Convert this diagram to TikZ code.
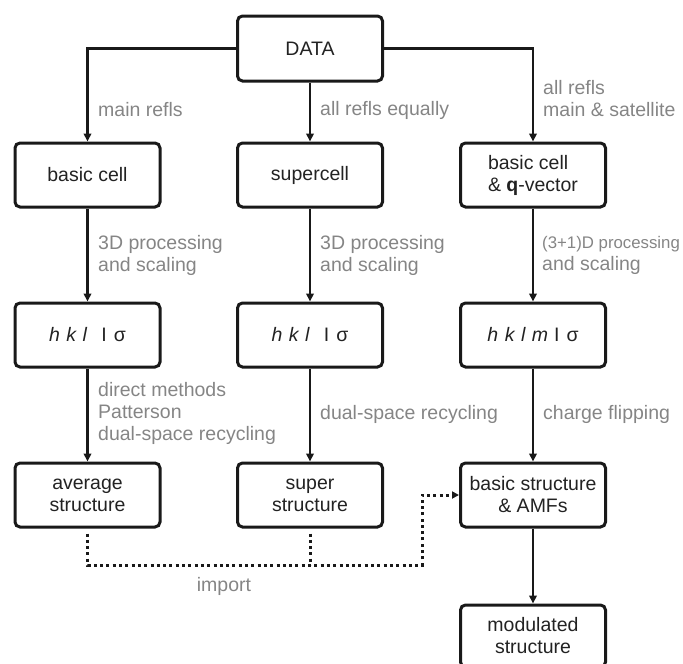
\documentclass[tikz,border=0pt]{standalone}
\usepackage{fontspec}
\setmainfont{Liberation Sans}
\usetikzlibrary{arrows.meta}
\newcommand\myfs{\fontsize{19.5}{22}\selectfont}
\definecolor{labgray}{HTML}{858585}
\definecolor{boxtext}{HTML}{222222}
\begin{document}
\begin{tikzpicture}[x=1pt,y=-1pt,
  box/.style={draw=black!90, line width=3pt, rounded corners=5pt, minimum width=145pt,
    minimum height=64pt, inner sep=0pt, align=center, font=\myfs, text=boxtext},
  lab/.style={anchor=west, text=labgray, align=left, font=\myfs, inner sep=0pt},
  arr/.style={draw=black!90, line width=2.6pt, -{Triangle[length=8pt,width=7.5pt]}},
  dotline/.style={draw=black!90, line width=3pt, dash pattern=on 3pt off 3.3pt}]
\useasboundingbox (0,0) rectangle (683,664);
% boxes
\node[box, minimum height=65pt] (data) at (310,48.5) {DATA};
\node[box] (bc) at (87.5,175) {basic cell};
\node[box] (sc) at (310,175) {supercell};
\node[box, align=left] (bq) at (533,175) {basic cell\\\& \textbf{q}-vector};
\node[box] (h1) at (87.5,335) {\textit{h\,\,k\,\,l}\hspace{14pt}I\hspace{7pt}σ};
\node[box] (h2) at (310,335) {\textit{h\,\,k\,\,l}\hspace{14pt}I\hspace{7pt}σ};
\node[box] (h3) at (533,335) {\textit{h\,\,k\,\,l\,\,m}\hspace{6pt}I\hspace{7pt}σ};
\node[box] (avg) at (87.5,495) {average\\structure};
\node[box] (sup) at (310,495) {super\\structure};
\node[box] (bs) at (533,495) {basic structure\\\& AMFs};
\node[box, minimum height=62pt] (mod) at (533,636) {modulated\\structure};
% connectors
\draw[arr] (data.west) -| (bc.north);
\draw[arr] (data) -- (sc);
\draw[arr] (data.east) -| (bq.north);
\draw[arr] (bc) -- (h1);
\draw[arr] (sc) -- (h2);
\draw[arr] (bq) -- (h3);
\draw[arr] (h1) -- (avg);
\draw[arr] (h2) -- (sup);
\draw[arr] (h3) -- (bs);
\draw[arr] (bs) -- (mod);
% dotted import
\coordinate (c1) at (422,565);
\draw[dotline, -{Triangle[length=7pt,width=7pt]}] ([yshift=-5pt]avg.south) |- (c1) |- (bs.west);
\draw[dotline] ([yshift=-5pt]sup.south) -- (sup.south |- c1);
% labels
\node[lab] (l1) at (98,110) {main refls};
\node[lab] (l2) at (320,110) {all refls equally};
\node[lab] (l3) at (543,99) {all refls\\main \& satellite};
\node[lab] (l4) at (98,255.5) {3D processing\\and scaling};
\node[lab] (l5) at (320,255.5) {3D processing\\and scaling};
\node[lab] (l6) at (542,255.5) {{\fontsize{16.8}{22}\selectfont(3+1)D processing}\\and scaling};
\node[lab] (l7) at (98,413.5) {direct methods\\Patterson\\dual-space recycling};
\node[lab] (l8) at (320,414) {dual-space recycling};
\node[lab] (l9) at (543,414) {charge flipping};
\node[lab, anchor=center] (l10) at (224,586) {import};
\end{tikzpicture}
\end{document}
